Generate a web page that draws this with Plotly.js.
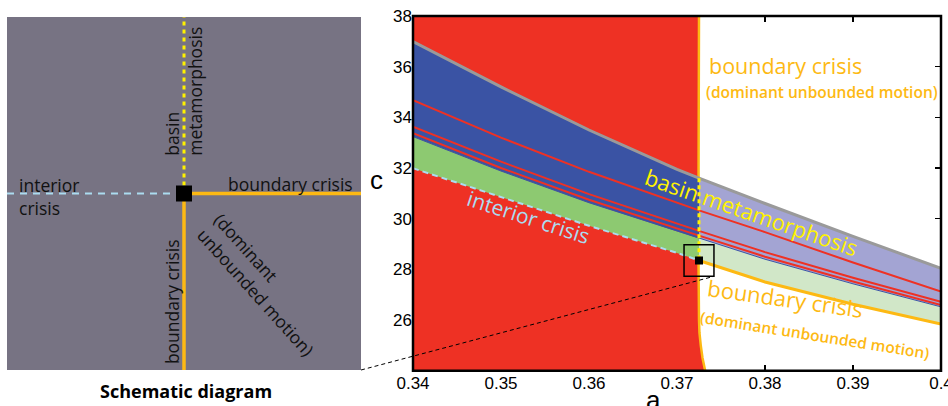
<!DOCTYPE html>
<html>
<head>
<meta charset="utf-8">
<script src="https://cdn.plot.ly/plotly-3.0.1.min.js"></script>
<style>
  html, body { margin: 0; padding: 0; background: #ffffff; }
  #chart { width: 948px; height: 406px; }
</style>
</head>
<body>
<div id="chart"></div>
<script>
// ---- parameter plane (a, c): curves sampled on a common a grid ----
const aGrid        = [0.34, 0.35, 0.36, 0.37, 0.3725, 0.38, 0.39, 0.40];
const cGrayEdge    = [36.99, 35.20, 33.50, 31.95, 31.60, 30.60, 29.30, 28.04];
const cRedLine1    = [34.68, 33.20, 31.85, 30.62, 30.33, 29.47, 28.27, 27.12];
const cRedLine2    = [33.63, 32.25, 30.97, 29.80, 29.52, 28.68, 27.67, 26.72];
const cRedLine3    = [33.37, 32.00, 30.75, 29.60, 29.33, 28.50, 27.52, 26.59];
const cBlueBottom  = [33.24, 31.88, 30.63, 29.50, 29.22, 28.40, 27.43, 26.52];
// interior crisis: a <= 0.3725 ; boundary crisis (lower): a >= 0.3725
const cInterior    = [31.99, 30.87, 29.72, 28.65, 28.35];
const cBoundaryLow = [28.35, 27.50, 26.62, 25.84];
const splitIndex   = 4;   // index in aGrid where the two crisis curves meet

// near-vertical boundary crisis curve (edge of the red region)
const edgeC = [24, 24.5, 25, 25.5, 26, 28, 32, 38];
const edgeA = [0.3732, 0.3729, 0.3727, 0.37255, 0.3725, 0.37245, 0.37245, 0.3725];

// codimension-two point and the box around it
const cuspA = aGrid[splitIndex];
const cuspC = cInterior[splitIndex];
const boxHalfA = 0.0017, boxHalfC = 0.625;

// axes
const xRange = [0.34, 0.40];
const yRange = [24, 38];
const xTickVals = [0.34, 0.35, 0.36, 0.37, 0.38, 0.39, 0.40];
const xTickText = ['0.34', '0.35', '0.36', '0.37', '0.38', '0.39', '0.4'];
const yTickVals = [26, 28, 30, 32, 34, 36, 38];

// schematic panel: unit square with the junction in the middle
const sCenter = 0.5;

// colours
const RED = '#ee3124', BLUE = '#3a53a4', GREEN = '#8dc971';
const LAVENDER = '#a3a4d3', PALEGREEN = '#d1e7c8';
const ORANGE = '#fdb913', YELLOW = '#fff200', ICEBLUE = '#abdcf0';
const GREYLINE = '#9a9a9a', PANEL = '#777383';
const TEXTFONT = 'Open Sans';

// helpers
const left  = arr => arr.slice(0, splitIndex + 1);
const right = arr => arr.slice(splitIndex);
const rev = arr => arr.slice().reverse();
function band(xs, top, bottom, color) {
  return { x: xs.concat(rev(xs)), y: top.concat(rev(bottom)), mode: 'lines',
           fill: 'toself', fillcolor: color, line: { width: 0 }, hoverinfo: 'skip',
           xaxis: 'x', yaxis: 'y' };
}
function curve(xs, ys, color, width, dash) {
  return { x: xs, y: ys, mode: 'lines', line: { color: color, width: width, dash: dash || 'solid' },
           hoverinfo: 'skip', xaxis: 'x', yaxis: 'y' };
}

const aLeft = left(aGrid), aRight = right(aGrid);

const traces = [
  // red region left of the boundary-crisis curve
  { x: [xRange[0], xRange[0]].concat(rev(edgeA)), y: [yRange[0], yRange[1]].concat(rev(edgeC)),
    mode: 'lines', fill: 'toself', fillcolor: RED, line: { width: 0 }, hoverinfo: 'skip',
    xaxis: 'x', yaxis: 'y' },
  curve(edgeA, edgeC, ORANGE, 2.5),
  // bands
  band(aLeft, left(cGrayEdge), left(cBlueBottom), BLUE),
  band(aLeft, left(cBlueBottom), cInterior, GREEN),
  band(aRight, right(cGrayEdge), right(cBlueBottom), LAVENDER),
  band(aRight, right(cBlueBottom), cBoundaryLow, PALEGREEN),
  // lines inside the bands
  curve(aGrid, cRedLine1, RED, 2),
  curve(aGrid, cRedLine2, RED, 2),
  curve(aGrid, cRedLine3, RED, 2),
  curve(aGrid, cBlueBottom, BLUE, 1),
  curve(aGrid, cGrayEdge, GREYLINE, 3),
  curve(aLeft, cInterior, ICEBLUE, 2, '6px,4px'),
  curve(aRight, cBoundaryLow, ORANGE, 3),
  curve([cuspA, cuspA], [cGrayEdge[splitIndex], cuspC], YELLOW, 3, '4px,3px'),
  { x: [cuspA], y: [cuspC], mode: 'markers', marker: { symbol: 'square', size: 8, color: '#000' },
    hoverinfo: 'skip', xaxis: 'x', yaxis: 'y' },

  // schematic
  { x: [0, sCenter], y: [sCenter, sCenter], mode: 'lines', xaxis: 'x2', yaxis: 'y2', hoverinfo: 'skip',
    line: { color: ICEBLUE, width: 2, dash: '7px,6px' } },
  { x: [sCenter, 1], y: [sCenter, sCenter], mode: 'lines', xaxis: 'x2', yaxis: 'y2', hoverinfo: 'skip',
    line: { color: ORANGE, width: 3.5 } },
  { x: [sCenter, sCenter], y: [0, sCenter], mode: 'lines', xaxis: 'x2', yaxis: 'y2', hoverinfo: 'skip',
    line: { color: ORANGE, width: 3.5 } },
  { x: [sCenter, sCenter], y: [sCenter, 1], mode: 'lines', xaxis: 'x2', yaxis: 'y2', hoverinfo: 'skip',
    line: { color: YELLOW, width: 3, dash: '4px,4px' } },
  { x: [sCenter], y: [sCenter], mode: 'markers', xaxis: 'x2', yaxis: 'y2', hoverinfo: 'skip',
    marker: { symbol: 'square', size: 16, color: '#000' } }
];

// subplot domains (paper fractions)
const W = 948, H = 406;
const xDom = [413 / W, 941 / W];
const yDom = [(H - 370.7) / H, (H - 16) / H];
const xDom2 = [7 / W, 361 / W];
const yDom2 = [(H - 370) / H, (H - 17) / H];

// data -> paper for the connector
const toPaperX = a => xDom[0] + (a - xRange[0]) / (xRange[1] - xRange[0]) * (xDom[1] - xDom[0]);
const toPaperY = c => yDom[0] + (c - yRange[0]) / (yRange[1] - yRange[0]) * (yDom[1] - yDom[0]);

const tickFont = { family: 'Liberation Sans, Arial, sans-serif', size: 17, color: '#000' };
const schemFont = { family: TEXTFONT, size: 17.5, color: '#111' };

const layout = {
  width: W, height: H,
  margin: { l: 0, r: 0, t: 0, b: 0 },
  paper_bgcolor: '#ffffff', plot_bgcolor: '#ffffff',
  showlegend: false,
  xaxis: {
    domain: xDom, range: xRange, tickvals: xTickVals, ticktext: xTickText,
    ticks: 'inside', ticklen: 6, tickwidth: 1.5, tickcolor: '#000', mirror: 'allticks',
    showline: false, showgrid: false, zeroline: false, tickfont: tickFont,
    ticklabeloverflow: 'allow', layer: 'below traces', fixedrange: true
  },
  yaxis: {
    domain: yDom, range: yRange, tickvals: yTickVals,
    ticks: 'inside', ticklen: 6, tickwidth: 1.5, tickcolor: '#000', mirror: 'allticks',
    showline: false, showgrid: false, zeroline: false, tickfont: tickFont,
    ticklabeloverflow: 'allow', layer: 'below traces', fixedrange: true
  },
  xaxis2: { domain: xDom2, range: [0, 1], visible: false, fixedrange: true, anchor: 'y2' },
  yaxis2: { domain: yDom2, range: [0, 1], visible: false, fixedrange: true, anchor: 'x2' },
  shapes: [
    { type: 'rect', xref: 'x2 domain', yref: 'y2 domain', x0: 0, x1: 1, y0: 0, y1: 1,
      fillcolor: PANEL, line: { width: 0 }, layer: 'below' },
    { type: 'rect', xref: 'x domain', yref: 'y domain', x0: 0, x1: 1, y0: 0, y1: 1,
      line: { color: '#000', width: 2.5 }, layer: 'above' },
    { type: 'rect', xref: 'x', yref: 'y', x0: cuspA - boxHalfA, x1: cuspA + boxHalfA,
      y0: cuspC - boxHalfC, y1: cuspC + boxHalfC, line: { color: '#000', width: 1.5 }, layer: 'above' },
    { type: 'line', xref: 'paper', yref: 'paper', x0: xDom2[1], y0: yDom2[0],
      x1: toPaperX(cuspA + boxHalfA), y1: toPaperY(cuspC - boxHalfC),
      line: { color: '#000', width: 1, dash: '4px,3px' }, layer: 'above' }
  ],
  annotations: [
    // axis titles
    { xref: 'paper', yref: 'paper', x: 376 / W, y: 1 - 180 / H, xanchor: 'center', yanchor: 'middle',
      text: 'c', showarrow: false,
      font: { family: 'Liberation Sans, Arial, sans-serif', size: 26, color: '#000' } },
    { xref: 'paper', yref: 'paper', x: 653 / W, y: 1 - 400 / H, xanchor: 'center', yanchor: 'middle',
      text: 'a', showarrow: false,
      font: { family: 'Liberation Sans, Arial, sans-serif', size: 26, color: '#000' } },
    // right panel labels
    { xref: 'x', yref: 'y', x: 0.3734, y: 36.05, xanchor: 'left', text: 'boundary crisis',
      showarrow: false, font: { family: TEXTFONT, size: 21.5, color: ORANGE } },
    { xref: 'x', yref: 'y', x: 0.3731, y: 35.0, xanchor: 'left', text: '(dominant unbounded motion)',
      showarrow: false, font: { family: TEXTFONT, size: 15.5, color: ORANGE, weight: 600 } },
    { xref: 'x', yref: 'y', x: 0.3785, y: 30.26, text: 'basin metamorphosis', textangle: 19,
      showarrow: false, font: { family: TEXTFONT, size: 22, color: YELLOW } },
    { xref: 'x', yref: 'y', x: 0.3531, y: 30.07, text: 'interior crisis', textangle: 18,
      showarrow: false, font: { family: TEXTFONT, size: 21, color: ICEBLUE } },
    { xref: 'x', yref: 'y', x: 0.3823, y: 26.85, text: 'boundary crisis', textangle: 8,
      showarrow: false, font: { family: TEXTFONT, size: 22, color: ORANGE } },
    { xref: 'x', yref: 'y', x: 0.3857, y: 25.41, text: '(dominant unbounded motion)', textangle: 9,
      showarrow: false, font: { family: TEXTFONT, size: 15.5, color: ORANGE, weight: 600 } },
    // schematic labels
    { xref: 'x2', yref: 'y2', x: 0.028, y: 0.491, xanchor: 'left', yanchor: 'middle', align: 'left',
      text: 'interior<br>crisis', showarrow: false, font: schemFont },
    { xref: 'x2', yref: 'y2', x: 0.80, y: 0.526, xanchor: 'center', yanchor: 'middle',
      text: 'boundary crisis', showarrow: false, font: schemFont },
    { xref: 'x2', yref: 'y2', x: 0.50, y: 0.60, xanchor: 'center', yanchor: 'bottom', align: 'left',
      textangle: -90, text: 'basin<br>metamorphosis', showarrow: false, font: schemFont },
    { xref: 'x2', yref: 'y2', x: 0.466, y: 0.195, xanchor: 'center', yanchor: 'middle', textangle: -90,
      text: 'boundary crisis', showarrow: false, font: schemFont },
    { xref: 'x2', yref: 'y2', x: 0.726, y: 0.241, xanchor: 'center', yanchor: 'middle', textangle: 48,
      align: 'left', text: '(dominant<br>unbounded motion)', showarrow: false, font: schemFont },
    { xref: 'paper', yref: 'paper', x: 186 / W, y: 1 - 391 / H, xanchor: 'center', yanchor: 'middle',
      text: 'Schematic diagram', showarrow: false,
      font: { family: TEXTFONT, size: 18, color: '#000', weight: 700 } }
  ]
};

Plotly.newPlot('chart', traces, layout, { displayModeBar: false, staticPlot: true });
</script>
</body>
</html>
